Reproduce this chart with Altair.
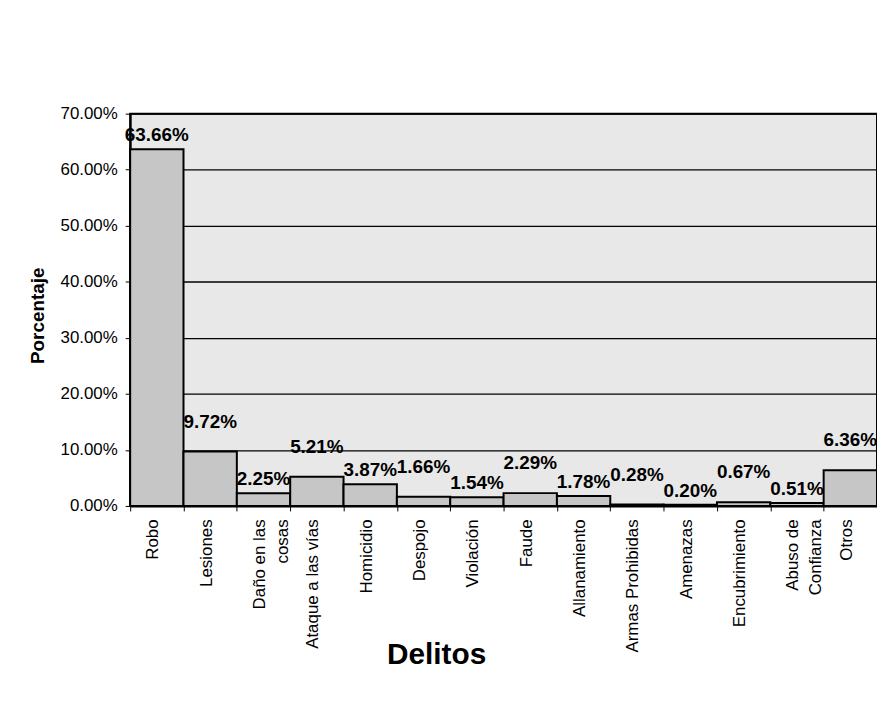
import altair as alt
import pandas as pd

categorias = [
    "Robo", "Lesiones", "Daño en las\ncosas", "Ataque a las vías", "Homicidio",
    "Despojo", "Violación", "Faude", "Allanamiento", "Armas Prohibidas",
    "Amenazas", "Encubrimiento", "Abuso de\nConfianza", "Otros",
]
porcentajes = [63.66, 9.72, 2.25, 5.21, 3.87, 1.66, 1.54, 2.29, 1.78, 0.28,
               0.20, 0.67, 0.51, 6.36]
ticks_y = [0, 10, 20, 30, 40, 50, 60, 70]

df = pd.DataFrame({"delito": categorias, "pct": porcentajes})

FONT = "Liberation Sans"

x_enc = alt.X(
    "delito:N", sort=None,
    scale=alt.Scale(paddingInner=0, paddingOuter=0),
    axis=alt.Axis(
        title="Delitos", titleFontSize=30, titleFontWeight="bold", titleFont=FONT,
        titleColor="black", titleX=308, titleY=150, titleBaseline="middle",
        titleAlign="center", titleAnchor="start",
        labelAngle=-90, labelAlign="right", labelBaseline="middle",
        labelFontSize=17, labelFont=FONT, labelColor="black",
        labelExpr="split(datum.label, '\\n')", labelLineHeight=23,
        labelOffset=-4,
        labelPadding=8, tickSize=5, tickBand="extent", tickColor="black",
        domainColor="black", domainWidth=2, labelLimit=300, grid=False,
    ),
)
y_enc = alt.Y(
    "pct:Q",
    scale=alt.Scale(domain=[0, 70], nice=False),
    axis=alt.Axis(
        title="Porcentaje", titleFontSize=19, titleFontWeight="bold", titleFont=FONT,
        titleColor="black", titleAngle=-90, titleX=-93, titleY=203,
        titleBaseline="middle", titleAlign="center",
        values=ticks_y, labelExpr="format(datum.value, '.2f') + '%'",
        labelFontSize=17, labelFont=FONT, labelColor="black",
        labelPadding=8, tickSize=5, tickColor="black",
        domainColor="black", domainWidth=2,
        grid=True, gridColor="black", gridWidth=1.3,
    ),
)

base = alt.Chart(df)

bars = base.mark_bar(fill="#c6c6c6", stroke="black", strokeWidth=2).encode(
    x=x_enc, y=y_enc
)

text_base = base.transform_window(idx="row_number()").transform_calculate(
    etiqueta="format(datum.pct, '.2f') + '%'"
)

labels_low = text_base.transform_filter("datum.idx % 2 == 1").mark_text(
    fontSize=19, fontWeight="bold", font=FONT, color="black",
    baseline="middle", align="center", dy=-14,
).encode(x=alt.X("delito:N", sort=None), y="pct:Q", text="etiqueta:N")

labels_high = text_base.transform_filter("datum.idx % 2 == 0").mark_text(
    fontSize=19, fontWeight="bold", font=FONT, color="black",
    baseline="middle", align="center", dy=-30,
).encode(x=alt.X("delito:N", sort=None), y="pct:Q", text="etiqueta:N")

chart = (
    alt.layer(bars, labels_low, labels_high)
    .properties(
        width=752, height=395,
        autosize=alt.AutoSizeParams(type="none"),
        padding={"left": 123, "top": 104, "right": 0, "bottom": 195},
        background="white",
    )
    .configure_view(fill="#e8e8e8", stroke="black", strokeWidth=2)
)

chart.save("out.html", embed_options={"renderer": "svg", "actions": False})
